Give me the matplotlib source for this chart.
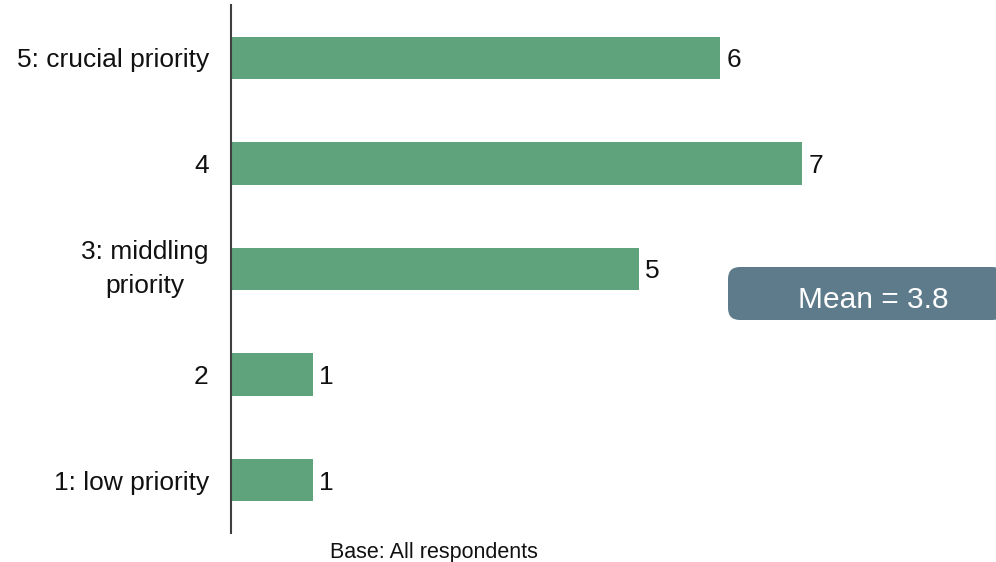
import matplotlib
matplotlib.use("Agg")
import matplotlib.pyplot as plt
from matplotlib.patches import FancyBboxPatch

plt.rcParams['font.family'] = ['Liberation Sans', 'DejaVu Sans']

categories = ["1: low priority", "2", "3: middling\npriority", "4", "5: crucial priority"]
values = [1, 1, 5, 7, 6]
mean_label = "Mean = 3.8"
base_label = "Base: All respondents"

W, H = 996, 562
fig = plt.figure(figsize=(W / 100, H / 100), dpi=100)
ax = fig.add_axes([231 / W, (H - 533) / H, (W - 231) / W, 528 / H])

bar_color = "#5fa37c"
ypos = list(range(len(categories)))
ax.barh(ypos, values, height=0.4, color=bar_color)
ax.set_xlim(0, 765 / 81.5)
ax.set_ylim(-0.5, len(categories) - 0.5)

for y, v in zip(ypos, values):
    ax.text(v + 0.085, y, str(v), va="center_baseline", ha="left", fontsize=19, color="#111111")

ax.set_yticks(ypos)
ax.set_yticklabels(categories, fontsize=19, color="#111111", multialignment="center", linespacing=1.55)
for lbl in ax.get_yticklabels():
    if "\n" in lbl.get_text():
        lbl.set_verticalalignment("center")
ax.tick_params(axis="y", length=0, pad=16)
ax.set_xticks([])
for s in ["top", "right", "bottom"]:
    ax.spines[s].set_visible(False)
ax.spines["left"].set_color("#404040")
ax.spines["left"].set_linewidth(1.5)

# Mean box
bx0, by0, bx1, by1 = 728, 267, 1004, 320
box = FancyBboxPatch((bx0 / W, 1 - by1 / H), (bx1 - bx0) / W, (by1 - by0) / H,
                     boxstyle="round,pad=0,rounding_size=0.012",
                     transform=fig.transFigure, facecolor="#5d7b8b", edgecolor="none",
                     mutation_aspect=W / H)
fig.patches.append(box)
fig.text(873 / W, 1 - 297 / H, mean_label, ha="center", va="center_baseline", fontsize=21.5, color="white")

fig.text(434 / W, 1 - 550 / H, base_label, ha="center", va="center_baseline", fontsize=15.5, color="#111111")

fig.savefig("out.png", dpi=100)
